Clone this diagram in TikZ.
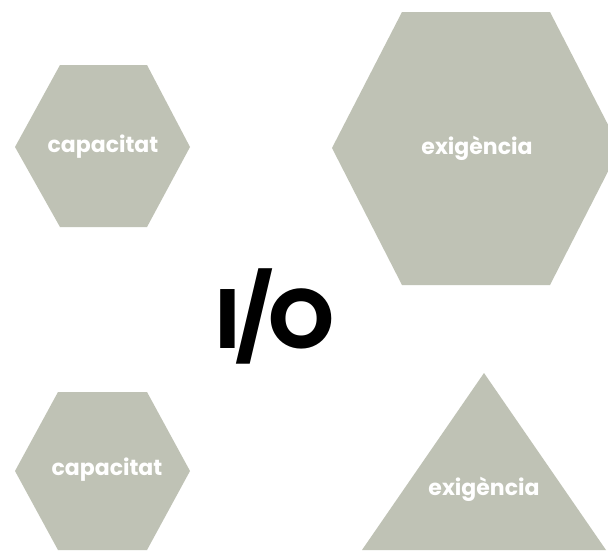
\documentclass[tikz,border=0pt]{standalone}
\usepackage{fontspec}
\setmainfont{Poppins}
\newfontfamily\iofont[LetterSpace=-6]{Poppins}
\definecolor{shapegray}{RGB}{191,194,181}
\begin{document}
\begin{tikzpicture}[x=1pt,y=-1pt,
  shapefill/.style={fill=shapegray},
  lbl/.style={text=white,font=\fontsize{22}{22}\selectfont\bfseries,inner sep=0pt,anchor=base},
  bigtxt/.style={text=black,font=\iofont\fontsize{84}{84}\selectfont\bfseries,inner sep=0pt,anchor=base}]
\useasboundingbox (0,0) rectangle (608,552);
\clip (0,0) rectangle (608,552);
\fill[white] (0,0) rectangle (608,552);
% top-left hexagon
\fill[shapefill] (60,65) -- (147,65) -- (190,147) -- (147,227) -- (60,227) -- (15,147) -- cycle;
% top-right hexagon
\fill[shapefill] (402,12) -- (550,12) -- (620,148) -- (550,285) -- (402,285) -- (332,148) -- cycle;
% bottom-left hexagon
\fill[shapefill] (58,392) -- (147,392) -- (190,471) -- (147,550) -- (58,550) -- (15,471) -- cycle;
% triangle
\fill[shapefill] (484,373) -- (606,550) -- (362,550) -- cycle;
\node[lbl] (cap1) at (103,152) {capacitat};
\node[lbl] (exi1) at (477,154) {exigència};
\node[lbl] (cap2) at (107,475) {capacitat};
\node[lbl] (exi2) at (484,495) {exigència};
\node[bigtxt] (io) at (275,348) {I/O};
\end{tikzpicture}
\end{document}
